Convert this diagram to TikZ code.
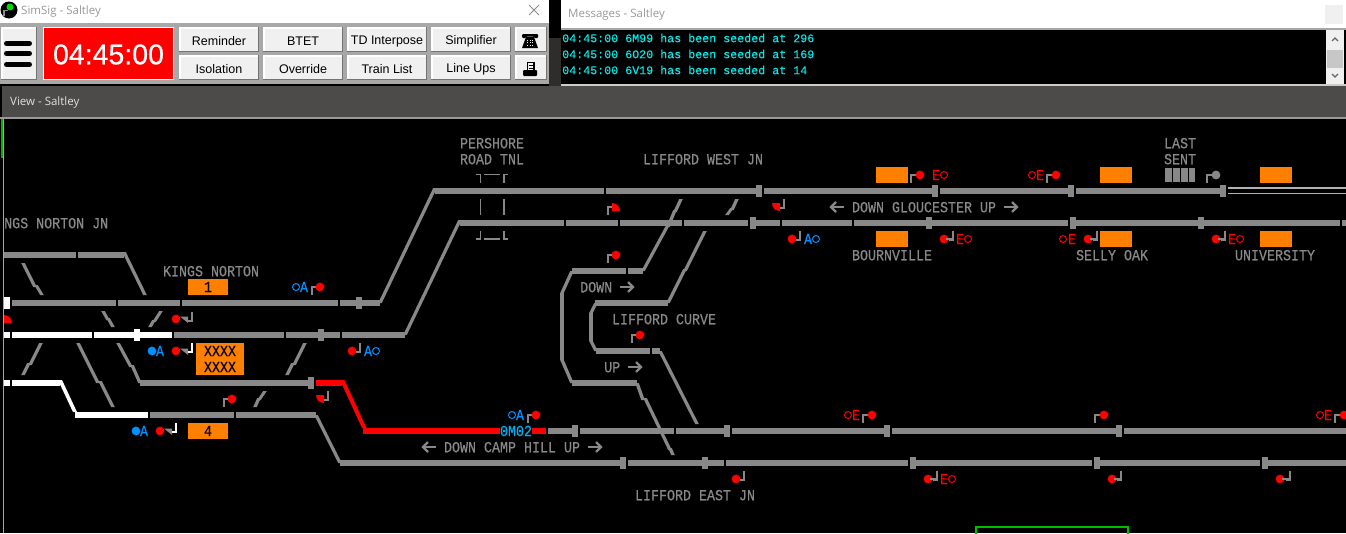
\documentclass[tikz,border=0pt]{standalone}
\usepackage{fontspec}
\usepackage{graphicx}
\setmainfont{Liberation Sans}
\newfontfamily\bmfont[FakeBold=0.5]{Liberation Mono}
\newfontfamily\msgfont[FakeBold=0.2]{Liberation Mono}
\newfontfamily\uifont{Open Sans}
\newfontfamily\clockfont[FakeBold=0.5]{Liberation Sans}
\definecolor{trk}{RGB}{136,136,136}
\definecolor{org}{RGB}{255,128,0}
\definecolor{sblue}{RGB}{0,144,255}
\definecolor{msgc}{RGB}{0,235,235}
\definecolor{barc}{RGB}{76,75,73}
\definecolor{tool}{RGB}{168,168,168}
\definecolor{btnf}{RGB}{240,240,240}
\tikzset{
  lbl/.style={inner sep=0pt,text=trk,font=\bmfont\fontsize{13.33}{14}\selectfont},
  msg/.style={inner sep=0pt,anchor=west,text=msgc,font=\msgfont\fontsize{11.67}{12}\selectfont},
  ui/.style={inner sep=0pt,anchor=west,font=\uifont\fontsize{11.5}{12}\selectfont},
  btn/.style={inner sep=0pt,text=black,font=\fontsize{12.5}{13}\selectfont},
  postl/.style={draw=trk,line width=1.8pt},
}
\newcommand{\mylbl}[4]{\node[lbl,#1] at (#2,#3+2) {\scalebox{1}[1.16]{\strut\smash{#4}}};}
\newcommand{\myrail}[3]{\fill[trk] (#1,#3-3) rectangle (#2,#3+3);}
\newcommand{\mypost}[2]{\fill[trk] (#1,#2-6) rectangle (#1+6,#2+6);}
\newcommand{\mydg}[4]{\fill[trk] (#1-1.8,#2) -- (#1+1.8,#2) -- (#3+1.8,#4) -- (#3-1.8,#4) -- cycle;}
\newcommand{\myred}[2]{\fill[red] (#1,#2) circle (4.4);}
\newcommand{\myring}[3]{\draw[#3,line width=1pt] (#1,#2) circle (3.5);}
\newcommand{\myupl}[2]{\draw[postl] (#1,#2+8) -- (#1,#2) -- (#1+4,#2);}
\newcommand{\mydnl}[3][trk]{\draw[draw=#1,line width=1.8pt] (#2,#3-8) -- (#2,#3+.8) -- (#2-4,#3+.8);}
\newcommand{\myletter}[4]{\node[lbl,text=#4] at (#1,#2) {\scalebox{1}[1.16]{#3}};}
\newcommand{\myarrL}[2]{\draw[draw=trk,line width=2pt] (#1+14,#2) -- (#1+1,#2); \draw[draw=trk,line width=2.4pt] (#1+6,#2-5) -- (#1+1,#2) -- (#1+6,#2+5);}
\newcommand{\myarrR}[2]{\draw[draw=trk,line width=2pt] (#1,#2) -- (#1+13,#2); \draw[draw=trk,line width=2.4pt] (#1+8,#2-5) -- (#1+13,#2) -- (#1+8,#2+5);}
\newcommand{\myorg}[4]{\fill[org] (#1,#2) rectangle (#3,#4);}
\newcommand{\mybtn}[6]{%
  \fill[black!55] (#2,#3) rectangle (#4,#5);
  \fill[white] (#2,#3) rectangle (#4-1.5,#5-1.5);
  \fill[btnf] (#2+1.5,#3+1.5) rectangle (#4-1.5,#5-1.5);
  \node[btn] (#1) at ({(#2+#4)/2},{(#3+#5)/2+1.5}) {#6};}
\begin{document}
\begin{tikzpicture}[x=1pt,y=-1pt]
\useasboundingbox (0,0) rectangle (1346,533);
\fill[black] (0,0) rectangle (1346,533);
% ---- window chrome
\fill[barc] (2,86) rectangle (1346,117);
\fill[black!40] (0,117) rectangle (1346,119);
\fill[black!35] (3,119) rectangle (4.2,533);
\fill[green!70!black] (1,119) rectangle (3,158);
\fill[barc!60!black] (549,38) rectangle (561,86);
\fill[white] (0,0) rectangle (549,23);
\fill[tool] (0,23) rectangle (549,84);
\fill[white] (561,0) rectangle (1346,28);
\fill[black!35] (561,28) rectangle (1346,30);
\fill[black!20] (561,84) rectangle (1346,86);
\fill[black!6] (1325,5) rectangle (1343,24);
\fill[btnf] (1326,30) rectangle (1344,84);
\fill[black!22] (1327,50) rectangle (1343,68);
\draw[black!60,line width=1.2pt] (1332,41) -- (1335,38) -- (1338,41);
\draw[black!60,line width=1.2pt] (1332,74) -- (1335,77) -- (1338,74);
% logo
\fill[black] (9,10) circle (8.5);
\fill[green!85!black] (10,7) circle (3.5);
\draw[black!45,line width=1.6pt] (4,16) -- (4,10.5) -- (8,10.5);
\node[ui,text=black!40] (simtitle) at (21,11.5) {SimSig - Saltley};
\draw[black!45,line width=.9pt] (529,5) -- (539,15) (539,5) -- (529,15);
\node[ui,text=black!40] (msgtitle) at (568,14.5) {Messages - Saltley};
\node[ui,text=black!12] (viewtitle) at (10,103) {View - Saltley};
% menu button
\fill[black!55] (1,27) rectangle (37,80);
\fill[white] (1,27) rectangle (35.5,78.5);
\fill[btnf] (2.5,28.5) rectangle (35.5,78.5);
\draw[black,line width=5pt,line cap=round] (6.5,43.5) -- (29.5,43.5) (6.5,53.5) -- (29.5,53.5) (6.5,64.5) -- (29.5,64.5);
% clock
\fill[white] (43,27) rectangle (174,80);
\fill[red] (44,28) rectangle (173,79);
\node[inner sep=0pt,text=white,font=\clockfont\fontsize{28.5}{30}\selectfont] (clock) at (108.5,54.5) {04:45:00};
% buttons
\mybtn{b1}{179}{27}{259}{52}{Reminder}
\mybtn{b2}{263}{27}{343}{52}{BTET}
\mybtn{b3}{347}{27}{427}{52}{TD Interpose}
\mybtn{b4}{431}{27}{511}{52}{Simplifier}
\mybtn{b5}{515}{27}{547}{52}{}
\mybtn{b6}{179}{55}{259}{80}{Isolation}
\mybtn{b7}{263}{55}{343}{80}{Override}
\mybtn{b8}{347}{55}{427}{80}{Train List}
\mybtn{b9}{431}{55}{511}{80}{Line Ups}
\mybtn{b10}{515}{55}{547}{80}{}
% phone icon
\fill[black,rounded corners=1pt] (522,38) -- (522,34) -- (538,34) -- (538,38) -- (534,38) -- (534,36.5) -- (526,36.5) -- (526,38) -- cycle;
\fill[black] (526,37) -- (534,37) -- (538,48) -- (522,48) -- cycle;
\foreach \i in {-2,0,2} {\foreach \j in {40,42.5,45} {\fill[btnf] (530+\i*1.2-.4,\j-.4) rectangle (530+\i*1.2+.4,\j+.4);}}
% printer icon
\fill[black] (526.5,62) rectangle (534.5,71);
\fill[btnf] (527.8,63.3) rectangle (533.2,71);
\draw[black,line width=.7pt] (528.5,65.5) -- (532.5,65.5) (528.5,68) -- (532.5,68);
\fill[black,rounded corners=1pt] (523,70) rectangle (537,76);
% ---- messages
\node[msg] (m1) at (562,38) {04:45:00 6M99 has been seeded at 296};
\node[msg] (m2) at (562,54) {04:45:00 6O20 has been seeded at 169};
\node[msg] (m3) at (562,70) {04:45:00 6V19 has been seeded at 14};
% ---- rails
\foreach \a/\b/\y in {
 4/76/255,78/124/255,
 12/116/303,118/180/303,182/338/303,340/380/303,
 174/284/335,286/340/335,342/405/335,
 140/310/383,150/234/415,236/316/415,
 435/604/191,606/756/191,764/932/191,940/1068/191,1076/1220/191,
 460/564/223,566/618/223,620/682/223,684/748/223,756/780/223,782/852/223,854/926/223,932/1068/223,1076/1198/223,1204/1340/223,1342/1346/223,
 572/626/271,628/643/271,595/668/303,596/650/351,652/660/351,572/637/383,
 548/572/431,580/674/431,676/724/431,732/884/431,892/1116/431,1124/1346/431,
 340/620/463,628/702/463,708/724/463,726/908/463,916/1092/463,1100/1260/463,1268/1346/463}
 {\myrail{\a}{\b}{\y}}
\foreach \x/\y in {356/303,318/335,308/383,756/191,932/191,1068/191,1220/191,750/223,926/223,1070/223,1198/223,572/431,724/431,884/431,1116/431,620/463,702/463,910/463,1094/463,1262/463}
 {\mypost{\x}{\y}}
% lit white rails
\fill[white] (4,297) rectangle (10,309);
\foreach \a/\b/\y in {4/10/335,12/92/335,94/172/335,4/10/383,12/60/383,75/148/415}
 {\fill[white] (\a,\y-3) rectangle (\b,\y+3);}
\fill[white] (134,329) rectangle (140,341);
\fill[white] (58,380) -- (62,380) -- (77,412) -- (73,412) -- cycle;
% red route
\fill[red] (316,380) rectangle (342,386);
\fill[red] (340,380) -- (344.5,380) -- (366.5,428) -- (362,428) -- cycle;
\fill[red] (363,428) rectangle (546,434);
% diagonals
\mydg{435}{188}{380}{303}\mydg{460}{220}{405}{335}
\mydg{124}{252}{145}{295}\mydg{23}{263}{35}{287}\mydg{36}{285}{42}{295}
\mydg{103}{311}{108}{320}\mydg{108}{318}{113}{327}
\mydg{161}{311}{154}{322}\mydg{154}{320}{150}{327}
\mydg{118}{343}{131}{367}\mydg{132}{365}{140}{383}
\mydg{78}{343}{98}{383}\mydg{100}{381}{113}{407}
\mydg{41}{343}{30}{365}\mydg{29}{363}{23}{375}
\mydg{305}{343}{294}{365}\mydg{293}{363}{287}{375}
\mydg{265}{391}{259}{400}\mydg{259}{398}{255}{407}
\mydg{316}{415}{340}{463}
\mydg{681}{199}{675}{212}\mydg{675}{210}{668}{227}\mydg{668}{225}{643}{271}
\mydg{737}{199}{732}{210}\mydg{732}{208}{727}{215}
\mydg{705}{231}{685}{271}\mydg{685}{269}{668}{303}
\mydg{572}{271}{562}{293}\mydg{562}{293}{562}{360}\mydg{562}{360}{572}{383}
\mydg{596}{303}{591}{313}\mydg{591}{313}{591}{341}\mydg{591}{341}{596}{351}
\mydg{637}{383}{643}{400}\mydg{645}{398}{670}{450}\mydg{670}{448}{673}{455}
\mydg{660}{351}{697}{424}
% thin up lines
\fill[white!70!black] (1228,187.2) rectangle (1346,188.8);
\fill[white!70!black] (1228,192.8) rectangle (1346,194.4);
% tunnel marks
\draw[postl] (476,174.5) -- (480.5,174.5) -- (480.5,183) (484,174.5) -- (500,174.5) (508,174.5) -- (504,174.5) -- (504,183);
\draw[postl] (480.5,199) -- (480.5,215) (504,199) -- (504,215);
\draw[postl] (476,239) -- (480.5,239) -- (480.5,231) (484,239) -- (500,239) (508,239) -- (504,239) -- (504,231);
% orange berths
\myorg{188}{279}{228}{295}\myorg{196}{343}{244}{375}\myorg{188}{423}{228}{439}
\myorg{876}{167}{908}{183}\myorg{876}{231}{908}{247}
\myorg{1100}{167}{1132}{183}\myorg{1100}{231}{1132}{247}
\myorg{1260}{167}{1292}{183}\myorg{1260}{231}{1292}{247}
\node[lbl,text=black] (bk1) at (208,287) {\scalebox{1}[1.16]{1}};
\node[lbl,text=black] (bkx) at (220,351) {\scalebox{1}[1.16]{XXXX}};
\node[lbl,text=black] (bky) at (220,367) {\scalebox{1}[1.16]{XXXX}};
\node[lbl,text=black] (bk4) at (208,431) {\scalebox{1}[1.16]{4}};
% last sent bars
\foreach \x in {1165,1173,1181,1188.5} {\fill[trk] (\x,168) rectangle (\x+6.5,182);}
% labels
\mylbl{anchor=west}{4}{223}{NGS NORTON JN}
\mylbl{}{211}{271}{KINGS NORTON}
\mylbl{}{492}{143}{PERSHORE}
\mylbl{}{492}{159}{ROAD TNL}
\mylbl{}{703}{159}{LIFFORD WEST JN}
\mylbl{}{664}{319}{LIFFORD CURVE}
\mylbl{anchor=west}{580}{287}{DOWN}
\mylbl{anchor=west}{604}{367}{UP}
\mylbl{}{924}{207}{DOWN GLOUCESTER UP}
\mylbl{}{892}{255}{BOURNVILLE}
\mylbl{}{1112}{255}{SELLY OAK}
\mylbl{}{1275}{255}{UNIVERSITY}
\mylbl{}{1180}{143}{LAST}
\mylbl{}{1180}{159}{SENT}
\mylbl{}{512}{447}{DOWN CAMP HILL UP}
\mylbl{}{695}{495}{LIFFORD EAST JN}
% arrows
\myarrL{830}{207}\myarrR{1004}{207}\myarrR{620}{287}\myarrR{628}{367}\myarrL{422}{447}\myarrR{588}{447}
% train id
\node[inner sep=0pt,fill=black,text=cyan,font=\bmfont\fontsize{13.33}{14}\selectfont,minimum height=10pt] (train) at (516,431) {\scalebox{1}[1.16]{0M02}};
% ---- signals: kings norton
\myring{296}{287}{sblue}\myletter{304}{287}{A}{sblue}\myupl{312}{287}\myred{320}{287}
\fill[red] (4,323) -- (4,315) arc (-90:0:8) -- cycle;
\myred{176}{319}\fill[trk] (180,316.5) -- (188,316.5) -- (188,323) -- cycle;\mydnl{192}{320}
\fill[sblue] (152,351) circle (4.4);\myletter{160}{351}{A}{sblue}\myred{176}{351}\fill[trk] (180,348.5) -- (188,348.5) -- (188,355) -- cycle;\mydnl[white]{192}{351}
\fill[sblue] (136,431) circle (4.4);\myletter{144}{431}{A}{sblue}\myred{160}{431}\fill[trk] (164,428.5) -- (172,428.5) -- (172,435) -- cycle;\mydnl[white]{176}{431}
\myred{232}{399}\myupl{224}{399}
\fill[red] (324,395) -- (316,395) arc (180:90:8) -- cycle;\mydnl{328}{399}
\myred{352}{351}\mydnl{360}{351}\myletter{368}{351}{A}{sblue}\myring{376}{351}{sblue}
% lifford
\fill[red] (612,211) -- (612,203) arc (-90:0:8) -- cycle;\myupl{608}{207}
\myred{616}{255}\myupl{608}{255}
\myred{640}{335}\myupl{632}{335}
\fill[red] (780,203) -- (772,203) arc (180:90:8) -- cycle;\mydnl{784}{207}
\myred{792}{239}\mydnl{800}{239}\myletter{808}{239}{A}{sblue}\myring{816}{239}{sblue}
% gloucester line
\myupl{911}{175}\draw[postl] (911,175) -- (916,175);\myred{920}{175}\myletter{936}{175}{E}{red}\myring{944}{175}{red}
\myred{944}{239}\mydnl{953}{239}\draw[postl] (946,239) -- (953,239);\myletter{960}{239}{E}{red}\myring{968}{239}{red}
\myring{1032}{175}{red}\myletter{1040}{175}{E}{red}\myupl{1047}{175}\draw[postl] (1047,175) -- (1052,175);\myred{1056}{175}
\myring{1063}{239}{red}\myletter{1072}{239}{E}{red}\myred{1088}{239}\mydnl{1097}{239}\draw[postl] (1090,239) -- (1097,239);
\myupl{1207}{175}\draw[postl] (1207,175) -- (1212,175);\fill[trk] (1216,175) circle (4.4);
\myred{1216}{239}\mydnl{1225}{239}\draw[postl] (1218,239) -- (1225,239);\myletter{1232}{239}{E}{red}\myring{1240}{239}{red}
% camp hill line
\myring{512}{415}{sblue}\myletter{520}{415}{A}{sblue}\myupl{528}{415}\myred{536}{415}
\myring{848}{415}{red}\myletter{856}{415}{E}{red}\myupl{863}{415}\draw[postl] (863,415) -- (868,415);\myred{872}{415}
\myupl{1095}{415}\draw[postl] (1095,415) -- (1100,415);\myred{1104}{415}
\myring{1320}{415}{red}\myletter{1328}{415}{E}{red}\myupl{1335}{415}\draw[postl] (1335,415) -- (1340,415);\myred{1344}{415}
\myred{736}{479}\mydnl{744}{479}
\myred{928}{479}\mydnl{937}{479}\draw[postl] (930,479) -- (937,479);\myletter{944}{479}{E}{red}\myring{952}{479}{red}
\myred{1112}{479}\mydnl{1121}{479}\draw[postl] (1114,479) -- (1121,479);
\myred{1280}{479}\mydnl{1290}{479}\draw[postl] (1282,479) -- (1290,479);
% green view rectangle
\draw[green!75!black,line width=2pt] (976,534) -- (976,527) -- (1128,527) -- (1128,534);
\end{tikzpicture}
\end{document}
